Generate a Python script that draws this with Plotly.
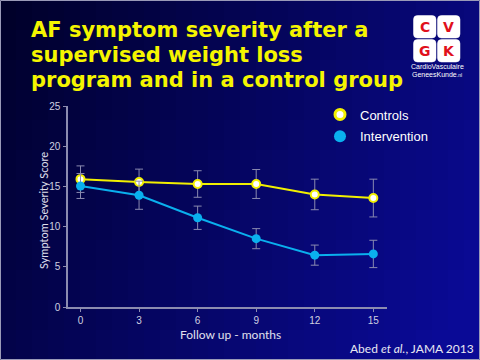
import plotly.graph_objects as go

# ---- data ----
months = [0, 3, 6, 9, 12, 15]
controls = [15.9, 15.55, 15.3, 15.3, 14.0, 13.55]
controls_err = [1.65, 1.6, 1.65, 1.8, 1.9, 2.35]
intervention = [15.05, 13.9, 11.1, 8.5, 6.45, 6.6]
intervention_err = [1.55, 1.75, 1.45, 1.25, 1.25, 1.7]
y_ticks = [0, 5, 10, 15, 20, 25]
title_lines = ["AF symptom severity after a", "supervised weight loss", "program and in a control group"]

W, H = 480, 360
L, R, T, B = 68, 93, 106, 53
pw, ph = W - L - R, H - T - B

def px(x):
    return (x - L) / pw

def py(y):
    return (H - B - y) / ph

fig = go.Figure()

fig.add_trace(go.Scatter(
    x=months, y=controls, mode="lines+markers", showlegend=False,
    line=dict(color="#f2f000", width=2),
    marker=dict(size=8, color="white", line=dict(color="#f2f000", width=2)),
    error_y=dict(type="data", array=controls_err, color="#8a8ab0", thickness=1, width=4),
))
fig.add_trace(go.Scatter(
    x=months, y=intervention, mode="lines+markers", showlegend=False,
    line=dict(color="#0ab0ee", width=2),
    marker=dict(size=9, color="#0ab0ee"),
    error_y=dict(type="data", array=intervention_err, color="#8a8ab0", thickness=1, width=4),
))

# legend-only entries (marker only, like the slide)
fig.add_trace(go.Scatter(x=[None], y=[None], mode="markers", name="Controls", legendgroup="a",
                         marker=dict(size=10, color="white", line=dict(color="#f2f000", width=3))))
fig.add_trace(go.Scatter(x=[None], y=[None], mode="markers", name="Intervention", legendgroup="b",
                         marker=dict(size=12, color="#0ab0ee")))

# ---- background gradient (styling only) ----
shapes = []
nx, ny = 30, 12
def lerp(a, b, t):
    return int(round(a + (b - a) * t))
for i in range(nx):
    for j in range(ny):
        tx = i / (nx - 1)
        ty = j / (ny - 1)
        t = min(1.0, max(0.0, 0.75 * tx + 0.3 * ty))
        r = lerp(0, 10, t)
        g = lerp(0, 10, t)
        b = lerp(42, 150, t)
        shapes.append(dict(type="rect", xref="paper", yref="paper",
                           x0=px(i * W / nx), x1=px((i + 1) * W / nx + 1),
                           y0=py((j + 1) * H / ny + 1), y1=py(j * H / ny),
                           fillcolor=f"rgb({r},{g},{b})", line=dict(width=0), layer="below"))

# slide border
shapes.append(dict(type="rect", xref="paper", yref="paper", x0=px(0.5), x1=px(W - 0.5),
                   y0=py(H - 0.5), y1=py(0.5), line=dict(color="#9a9ab8", width=1), layer="below"))

# logo squares (rounded)
def rounded_path(x0, y0, s, r):
    X = lambda v: px(v)
    Y = lambda v: py(v)
    return (f"M{X(x0 + r)},{Y(y0)} L{X(x0 + s - r)},{Y(y0)} Q{X(x0 + s)},{Y(y0)} {X(x0 + s)},{Y(y0 + r)} "
            f"L{X(x0 + s)},{Y(y0 + s - r)} Q{X(x0 + s)},{Y(y0 + s)} {X(x0 + s - r)},{Y(y0 + s)} "
            f"L{X(x0 + r)},{Y(y0 + s)} Q{X(x0)},{Y(y0 + s)} {X(x0)},{Y(y0 + s - r)} "
            f"L{X(x0)},{Y(y0 + r)} Q{X(x0)},{Y(y0)} {X(x0 + r)},{Y(y0)} Z")

logo = [(413.5, 15.5, "C"), (437.5, 15.5, "V"), (413.5, 39.5, "G"), (437.5, 39.5, "K")]
for (x0, y0, letter) in logo:
    shapes.append(dict(type="path", xref="paper", yref="paper", path=rounded_path(x0, y0, 22.5, 4),
                       fillcolor="white", line=dict(color="white", width=0.5), layer="above"))

annotations = []
for k, line in enumerate(title_lines):
    annotations.append(dict(text=line, x=px(29), y=py(38 + 25 * k), xref="paper", yref="paper",
                            xanchor="left", yanchor="bottom", showarrow=False, yshift=-6,
                            font=dict(family="DejaVu Sans", size=21, color="#f5f500", weight="bold")))

annotations += [
    dict(text="Symptom Severity Score", textangle=-90, x=px(43), y=py(211),
         xref="paper", yref="paper", xanchor="center", yanchor="middle", showarrow=False,
         font=dict(family="Lato", size=11, color="#e0e0ee")),
    dict(text="Follow up - months", x=px(230), y=py(334), xref="paper", yref="paper",
         xanchor="center", yanchor="middle",
         showarrow=False, font=dict(family="Lato", size=12, color="#e0e0ee")),
    dict(text="Abed <i>et al.</i>, JAMA 2013", x=px(476), y=py(348), xref="paper", yref="paper",
         xanchor="right", yanchor="middle", showarrow=False,
         font=dict(family="Lato", size=12, color="#e8e8f2")),
    dict(text="CardioVasculaire", x=px(437), y=py(66.5), xref="paper", yref="paper",
         xanchor="center", yanchor="middle", showarrow=False,
         font=dict(family="Liberation Sans Narrow, Liberation Sans", size=7, color="white")),
    dict(text="GeneesKunde<span style='font-size:5px'>.nl</span>", x=px(437), y=py(74.5),
         xref="paper", yref="paper", xanchor="center", yanchor="middle", showarrow=False,
         font=dict(family="Liberation Sans Narrow, Liberation Sans", size=7, color="white")),
]
for (x0, y0, letter) in logo:
    annotations.append(dict(text=letter, x=px(x0 + 11.5), y=py(y0 + 11.5), xref="paper", yref="paper",
                            xanchor="center", yanchor="middle", showarrow=False,
                            font=dict(family="DejaVu Sans", size=14, color="#e0101c", weight="bold")))

axis_col = "#8c8cb0"
fig.update_layout(
    width=W, height=H,
    margin=dict(l=L, r=R, t=T, b=B),
    paper_bgcolor="#000040",
    plot_bgcolor="rgba(0,0,0,0)",
    shapes=shapes,
    annotations=annotations,
    legend=dict(x=px(320), y=py(99.5), xref="paper", yref="paper", xanchor="left", yanchor="top",
                bgcolor="rgba(0,0,0,0)", font=dict(family="Liberation Sans", size=13, color="white"),
                itemwidth=30, tracegroupgap=2),
    xaxis=dict(range=[-0.64, 15.7], tickvals=months, showgrid=False, zeroline=False,
               showline=True, linecolor=axis_col, linewidth=1.5,
               ticks="outside", ticklen=3, tickcolor=axis_col, tickwidth=1,
               tickfont=dict(family="Liberation Sans", size=10, color="#d0d0e0")),
    yaxis=dict(range=[0, 25], tickvals=y_ticks, showgrid=False, zeroline=False,
               showline=True, linecolor=axis_col, linewidth=1.5,
               ticks="outside", ticklen=3, tickcolor=axis_col, tickwidth=1, ticklabelstandoff=1,
               tickfont=dict(family="Liberation Sans", size=10, color="#d0d0e0")),
)

fig.write_html("out.html", config={"displayModeBar": False},
               post_script="document.body.style.margin='0';document.body.style.overflow='hidden';")
